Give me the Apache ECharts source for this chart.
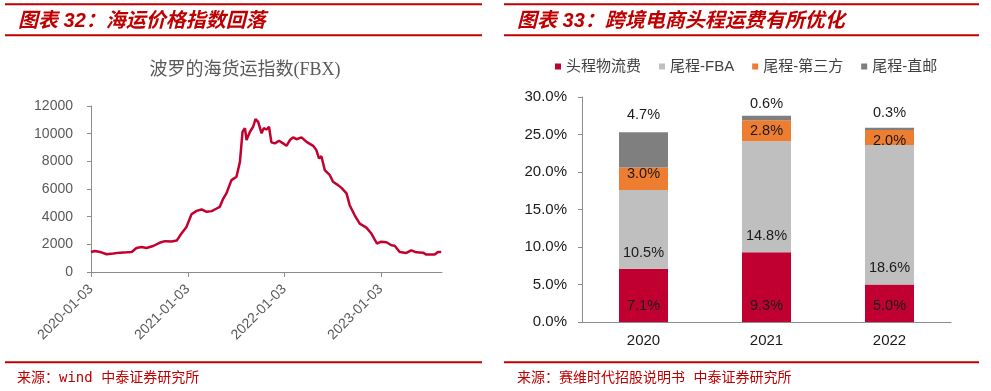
<!DOCTYPE html>
<html><head><meta charset="utf-8">
<script src="https://cdn.jsdelivr.net/npm/echarts@6/dist/echarts.min.js"></script>
<style>html,body{margin:0;padding:0;background:#fff}#c{width:991px;height:391px}</style>
</head><body><div id="c"></div>
<script>
// ---- Left chart: Freightos Baltic Index (FBX) ----
const fbxDates = [
 '2020-01-03','2020-01-18','2020-02-06','2020-03-02','2020-03-27','2020-04-22','2020-05-17','2020-06-05',
 '2020-06-23','2020-07-12','2020-07-31','2020-08-25','2020-09-20','2020-10-09','2020-11-03','2020-11-22',
 '2020-12-10','2020-12-29','2021-01-17','2021-02-05','2021-02-24','2021-03-15','2021-04-03','2021-04-22',
 '2021-05-04','2021-05-17','2021-05-29','2021-06-17','2021-07-06','2021-07-19','2021-07-29','2021-08-07',
 '2021-08-13','2021-08-26','2021-09-07','2021-09-16','2021-09-26','2021-10-09','2021-10-17','2021-10-27',
 '2021-11-06','2021-11-15','2021-11-28','2021-12-14','2021-12-29','2022-01-11','2022-01-24','2022-02-05',
 '2022-02-18','2022-03-09','2022-03-28','2022-04-22','2022-05-04','2022-05-14','2022-05-23','2022-06-05',
 '2022-06-24','2022-07-06','2022-07-25','2022-08-07','2022-08-26','2022-09-07','2022-09-26','2022-10-15',
 '2022-11-09','2022-11-28','2022-12-19','2023-01-05','2023-01-24','2023-02-12','2023-02-24','2023-03-15',
 '2023-04-09','2023-04-28','2023-05-17','2023-06-11','2023-06-24','2023-07-25','2023-08-07','2023-08-19'
];
const fbxValues = [
 1450,1520,1450,1280,1330,1400,1420,1450,
 1740,1810,1740,1880,2130,2230,2200,2270,
 2780,3260,4180,4420,4520,4350,4400,4590,
 4710,5310,5680,6640,6880,7960,10140,10400,
 9540,10140,10500,11050,10850,10020,10400,10300,
 10500,9370,9300,9490,9300,9120,9540,9730,
 9600,9730,9410,9120,8810,8210,8370,7360,
 7000,6520,6280,6080,5680,4830,4100,3500,
 3210,2780,2060,2190,2150,1930,1900,1450,
 1380,1570,1420,1400,1260,1260,1450,1450
];
const fbxTickDates = ['2020-01-03','2021-01-03','2022-01-03','2023-01-03'];
const fbxAxisEnd = '2023-08-22';

// ---- Right chart: cross-border e-commerce freight cost share ----
const years = ['2020','2021','2022'];
const seriesNames = ['头程物流费','尾程-FBA','尾程-第三方','尾程-直邮'];
const headLogistics = [7.1, 9.3, 5.0];
const tailFBA = [10.5, 14.8, 18.6];
const tailThirdParty = [3.0, 2.8, 2.0];
const tailDirectMail = [4.7, 0.6, 0.3];

const SANS = "'Liberation Sans','Noto Sans CJK SC',sans-serif";
const RED = '#c00000';
const AXIS = '#8c8c8c';
const parse = s => echarts.number.parseDate(s).getTime();
const tickVals = fbxTickDates.map(parse);
const pct = p => p.value.toFixed(1) + '%';
const fmtDate = v => echarts.time.format(v, '{yyyy}-{MM}-{dd}', false);

const chart = echarts.init(document.getElementById('c'));

const labelBase = {show: true, formatter: pct, fontSize: 14.5, color: '#1a1a1a', fontFamily: SANS};

function barSeries(name, values, color, labelFor) {
  return {
    name, type: 'bar', stack: 'total', xAxisIndex: 1, yAxisIndex: 1, barWidth: 49,
    itemStyle: {color},
    data: values.map((v, i) => ({value: v, label: Object.assign({}, labelBase, labelFor(i))}))
  };
}

const option = {
  animation: false,
  backgroundColor: '#fff',
  textStyle: {fontFamily: SANS},
  grid: [
    {left: 91, top: 106, width: 351, height: 166},
    {left: 582, top: 97, width: 369, height: 225}
  ],
  legend: {
    data: seriesNames, left: 550, top: 54, icon: 'rect', itemWidth: 6, itemHeight: 6, itemGap: 18,
    textStyle: {fontSize: 15, color: '#404040', fontFamily: SANS}
  },
  xAxis: [
    {
      type: 'value', gridIndex: 0, min: parse(fbxTickDates[0]), max: parse(fbxAxisEnd),
      axisLine: {lineStyle: {color: AXIS}},
      axisTick: {show: true, customValues: tickVals, length: 5, lineStyle: {color: AXIS}},
      axisLabel: {
        customValues: tickVals, rotate: 45, margin: 15, fontSize: 14, color: '#595959', fontFamily: SANS,
        formatter: fmtDate
      },
      splitLine: {show: false}
    },
    {
      type: 'category', gridIndex: 1, data: years,
      axisLine: {lineStyle: {color: AXIS}},
      axisTick: {length: 5, lineStyle: {color: AXIS}},
      axisLabel: {fontSize: 15, color: '#1a1a1a', margin: 11, fontFamily: SANS}
    }
  ],
  yAxis: [
    {
      type: 'value', gridIndex: 0, min: 0, max: 12000, interval: 2000,
      axisLine: {show: true, lineStyle: {color: AXIS}},
      axisTick: {show: true, length: 4, lineStyle: {color: AXIS}},
      axisLabel: {fontSize: 14, color: '#595959', margin: 18, fontFamily: SANS, formatter: v => String(v)},
      splitLine: {show: false}
    },
    {
      type: 'value', gridIndex: 1, min: 0, max: 30, interval: 5,
      axisLine: {show: true, lineStyle: {color: AXIS}},
      axisTick: {show: true, length: 4, lineStyle: {color: AXIS}},
      axisLabel: {fontSize: 15, color: '#1a1a1a', margin: 15, fontFamily: SANS, formatter: v => v.toFixed(1) + '%'},
      splitLine: {show: false}
    }
  ],
  series: [
    {
      name: 'FBX', type: 'line', xAxisIndex: 0, yAxisIndex: 0, showSymbol: false, symbol: 'none',
      lineStyle: {color: '#c4002f', width: 2.5}, itemStyle: {color: '#c4002f'},
      data: fbxDates.map((d, i) => [parse(d), fbxValues[i]])
    },
    barSeries(seriesNames[0], headLogistics, '#c00030', () => ({position: 'insideBottom', distance: 9})),
    barSeries(seriesNames[1], tailFBA, '#bfbfbf', () => ({position: 'insideBottom', distance: 9})),
    barSeries(seriesNames[2], tailThirdParty, '#ed7d31', i => (i === 0 ? {position: 'insideBottom', distance: 9} : {position: 'inside', offset: [0, i === 2 ? 3 : 0]})),
    barSeries(seriesNames[3], tailDirectMail, '#7f7f7f', i => ({position: 'top', distance: [10, 5, 7.5][i]}))
  ],
  graphic: [
    {type: 'rect', shape: {x: 5, y: 3.3, width: 477, height: 2}, style: {fill: RED}, silent: true},
    {type: 'rect', shape: {x: 5, y: 34.3, width: 477, height: 2}, style: {fill: RED}, silent: true},
    {type: 'rect', shape: {x: 5, y: 361.3, width: 477, height: 2}, style: {fill: RED}, silent: true},
    {type: 'rect', shape: {x: 504, y: 3.3, width: 475, height: 2}, style: {fill: RED}, silent: true},
    {type: 'rect', shape: {x: 504, y: 34.3, width: 475, height: 2}, style: {fill: RED}, silent: true},
    {type: 'rect', shape: {x: 504, y: 361.3, width: 475, height: 2}, style: {fill: RED}, silent: true},
    {type: 'text', x: 18, y: 21.5, style: {text: '图表 32：海运价格指数回落', fill: RED, font: "italic bold 20px 'Liberation Sans','Noto Sans CJK SC'", textVerticalAlign: 'middle'}},
    {type: 'text', x: 517, y: 21.5, style: {text: '图表 33：跨境电商头程运费有所优化', fill: RED, font: "italic bold 20px 'Liberation Sans','Noto Sans CJK SC'", textVerticalAlign: 'middle'}},
    {type: 'text', x: 245, y: 70, style: {text: '波罗的海货运指数(FBX)', fill: '#595959', font: "18px 'Liberation Serif','Noto Sans CJK SC'", textAlign: 'center', textVerticalAlign: 'middle'}},
    {type: 'text', x: 17, y: 378.5, style: {text: '来源：wind 中泰证券研究所', fill: RED, font: "14px 'DejaVu Sans Mono','Noto Sans CJK SC'", textVerticalAlign: 'middle'}},
    {type: 'text', x: 517, y: 378.5, style: {text: '来源：赛维时代招股说明书 中泰证券研究所', fill: RED, font: "14px 'DejaVu Sans Mono','Noto Sans CJK SC'", textVerticalAlign: 'middle'}}
  ]
};
chart.setOption(option);
</script>
</body></html>
